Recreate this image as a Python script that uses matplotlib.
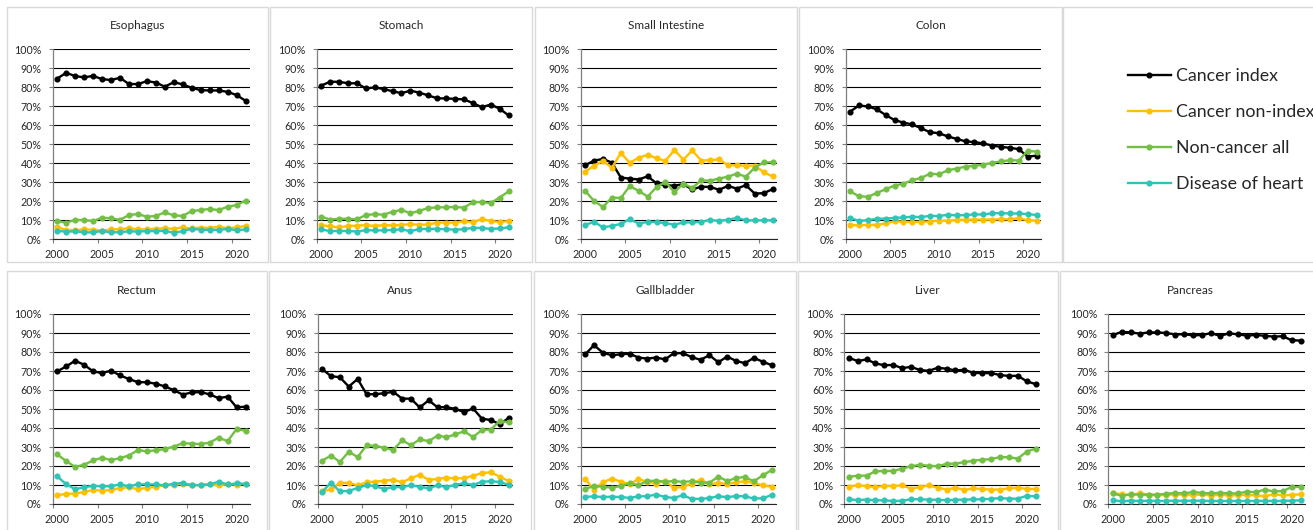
import matplotlib
matplotlib.use("Agg")
import matplotlib.pyplot as plt
from matplotlib.patches import Rectangle
from matplotlib.ticker import PercentFormatter

plt.rcParams['font.family'] = ['Lato', 'DejaVu Sans']

years = list(range(2000, 2022))
series_names = ["Cancer index", "Cancer non-index", "Non-cancer all", "Disease of heart"]
colors = ["#000000", "#FFC000", "#72BF44", "#2EC4B6"]

# values in percent, one list per series, years 2000-2021
esophagus = [
    [84.7, 87.7, 86.0, 85.3, 86.1, 84.4, 83.9, 85.1, 81.8, 81.8, 83.3, 82.6, 80.4, 82.8, 81.6, 79.8, 78.6, 78.4, 78.4, 77.7, 76.0, 73.0],
    [6.5, 4.8, 4.8, 5.2, 5.0, 4.6, 5.2, 5.3, 5.8, 5.2, 5.2, 5.6, 5.8, 5.5, 6.3, 5.7, 6.2, 6.0, 6.6, 5.9, 6.3, 7.0],
    [9.6, 8.8, 10.2, 10.2, 9.6, 11.4, 11.1, 10.2, 12.8, 13.3, 11.9, 12.3, 14.2, 12.6, 12.3, 14.9, 15.4, 16.0, 15.4, 17.2, 18.0, 20.4],
    [4.5, 4.0, 4.2, 3.7, 3.6, 4.4, 3.6, 3.8, 4.2, 4.1, 4.3, 4.3, 4.5, 3.4, 4.3, 5.6, 5.0, 5.0, 4.9, 5.5, 4.8, 5.2],
]
stomach = [
    [81.0, 83.0, 83.0, 82.2, 82.2, 79.5, 80.0, 79.2, 78.0, 77.0, 78.3, 77.3, 75.8, 74.3, 74.2, 74.0, 73.7, 71.8, 69.6, 71.0, 68.8, 65.3],
    [7.5, 6.8, 6.3, 7.0, 7.2, 7.5, 7.0, 7.5, 7.3, 7.6, 8.0, 7.7, 7.8, 8.8, 8.8, 8.8, 9.5, 9.0, 10.6, 9.7, 9.1, 9.6],
    [12.0, 10.4, 10.8, 10.8, 10.5, 12.8, 13.2, 13.0, 14.5, 15.5, 13.7, 15.0, 16.5, 16.8, 16.9, 17.0, 16.7, 19.5, 19.6, 19.1, 22.0, 25.2],
    [5.2, 4.3, 4.4, 4.4, 4.1, 4.8, 4.7, 4.7, 5.0, 5.2, 4.3, 5.4, 5.5, 5.5, 5.3, 5.1, 5.3, 6.1, 5.9, 5.5, 5.7, 6.3],
]
small_intestine = [
    [39.0, 41.5, 42.3, 40.4, 32.5, 32.0, 31.5, 33.2, 29.5, 28.4, 28.3, 29.0, 26.3, 27.7, 27.6, 26.1, 28.1, 26.7, 28.5, 24.1, 24.3, 26.4],
    [35.6, 38.8, 41.3, 37.7, 45.5, 40.3, 43.0, 44.5, 42.7, 41.3, 47.1, 42.0, 46.8, 41.5, 41.7, 42.1, 39.1, 38.9, 38.8, 38.8, 35.4, 33.1],
    [25.5, 20.2, 17.0, 22.0, 21.8, 28.0, 25.5, 22.5, 27.5, 30.2, 24.8, 29.3, 27.1, 31.0, 30.9, 32.0, 33.0, 34.6, 33.0, 37.7, 40.5, 40.6],
    [7.6, 9.2, 6.3, 7.1, 8.1, 10.6, 8.3, 9.2, 9.1, 8.5, 7.7, 8.9, 8.9, 9.2, 10.2, 9.7, 10.3, 11.3, 10.0, 10.0, 10.0, 10.0],
]
colon = [
    [67.3, 70.5, 70.0, 68.5, 65.5, 62.8, 61.5, 60.5, 58.5, 56.4, 55.9, 54.2, 52.9, 51.6, 51.2, 50.5, 49.4, 48.7, 48.2, 47.5, 43.5, 44.1],
    [7.6, 7.3, 7.7, 7.5, 8.5, 9.4, 9.3, 9.0, 9.3, 9.3, 9.9, 9.7, 10.2, 10.3, 10.4, 10.4, 10.4, 10.6, 10.5, 11.1, 10.0, 9.8],
    [25.2, 22.7, 22.4, 24.4, 26.4, 28.3, 29.3, 31.1, 32.4, 34.5, 34.3, 36.3, 37.3, 38.3, 38.7, 39.3, 40.3, 41.0, 41.7, 41.5, 46.6, 46.2],
    [11.2, 9.7, 10.1, 10.8, 10.9, 11.3, 11.5, 11.9, 11.7, 12.4, 12.2, 13.0, 12.6, 12.8, 13.1, 13.1, 13.7, 13.8, 13.6, 13.6, 13.3, 12.8],
]
rectum = [
    [69.8, 72.4, 75.4, 73.3, 69.8, 68.9, 70.2, 67.7, 65.8, 64.1, 64.1, 63.3, 61.9, 59.9, 57.6, 58.7, 58.9, 57.7, 55.7, 56.5, 50.9, 51.2],
    [4.7, 5.3, 5.5, 6.3, 7.4, 7.0, 7.3, 8.4, 8.8, 7.8, 8.5, 9.0, 9.9, 10.2, 10.5, 10.0, 10.0, 10.3, 9.8, 10.4, 10.2, 10.6],
    [26.1, 22.6, 19.5, 20.7, 22.9, 24.4, 23.0, 24.2, 25.5, 28.4, 27.7, 28.3, 28.9, 30.2, 32.0, 31.8, 31.5, 32.3, 34.9, 33.1, 39.4, 38.6],
    [14.6, 10.4, 7.8, 8.8, 9.6, 9.3, 9.4, 10.3, 9.3, 10.4, 10.3, 10.3, 9.8, 10.7, 11.1, 9.8, 10.0, 10.3, 11.7, 10.3, 10.8, 10.6],
]
anus = [
    [71.0, 67.3, 66.7, 61.8, 65.8, 57.8, 57.8, 58.3, 59.1, 55.5, 55.4, 50.8, 54.6, 50.9, 51.0, 50.0, 48.4, 50.3, 44.9, 44.2, 42.0, 45.2],
    [6.6, 7.7, 11.2, 11.0, 9.8, 11.4, 11.8, 12.2, 12.8, 11.4, 13.6, 15.3, 12.7, 13.2, 13.9, 13.5, 13.6, 14.8, 16.3, 16.7, 14.4, 12.1],
    [22.8, 25.5, 22.1, 27.5, 24.7, 30.8, 30.6, 29.6, 28.4, 33.5, 31.0, 34.0, 33.1, 36.0, 35.2, 36.6, 38.3, 35.2, 39.0, 39.2, 43.6, 43.0],
    [6.5, 11.2, 6.6, 6.9, 8.4, 10.0, 9.4, 7.8, 9.0, 8.8, 9.9, 9.0, 8.3, 9.8, 8.9, 10.1, 10.9, 10.0, 11.7, 12.0, 11.6, 10.1],
]
gallbladder = [
    [78.7, 83.6, 79.6, 78.3, 78.8, 79.1, 77.1, 76.5, 77.1, 76.1, 79.4, 79.4, 77.3, 75.9, 78.3, 74.6, 77.6, 75.3, 74.1, 76.9, 74.9, 73.1],
    [13.4, 7.3, 11.5, 13.3, 11.8, 10.5, 13.0, 11.8, 10.7, 12.3, 8.4, 9.1, 10.7, 12.8, 10.4, 11.1, 10.5, 11.4, 12.0, 11.0, 9.8, 9.1],
    [7.9, 9.5, 9.1, 8.6, 9.5, 10.8, 10.0, 12.1, 12.3, 11.7, 12.1, 11.6, 12.0, 11.2, 11.2, 14.4, 12.1, 13.7, 14.2, 11.9, 15.1, 17.8],
    [3.8, 4.0, 3.7, 3.8, 3.7, 3.2, 4.0, 4.1, 5.0, 3.7, 3.2, 4.6, 2.7, 2.7, 3.1, 4.1, 3.6, 4.2, 4.0, 2.9, 3.0, 4.7],
]
liver = [
    [77.0, 75.2, 76.1, 74.0, 73.0, 73.2, 71.5, 72.2, 70.5, 70.1, 71.7, 71.2, 70.3, 70.6, 69.0, 68.9, 68.9, 67.9, 67.4, 67.5, 64.6, 63.1],
    [9.0, 10.0, 9.3, 9.0, 9.5, 9.5, 9.8, 8.1, 8.9, 9.8, 8.6, 7.6, 8.6, 7.4, 8.2, 7.9, 7.6, 7.6, 8.2, 8.6, 7.9, 7.9],
    [14.3, 14.9, 14.9, 17.2, 17.4, 17.4, 18.6, 19.9, 20.6, 20.1, 19.9, 21.1, 21.3, 22.0, 22.8, 23.3, 23.6, 24.7, 24.6, 23.9, 27.6, 29.1],
    [2.4, 2.1, 2.3, 2.0, 1.9, 1.6, 1.7, 2.5, 2.5, 2.3, 2.2, 2.0, 2.2, 2.3, 2.4, 2.5, 2.7, 3.1, 2.8, 2.8, 4.3, 4.0],
]
pancreas = [
    [88.9, 90.6, 90.3, 89.7, 90.3, 90.3, 90.0, 89.2, 89.4, 88.7, 89.0, 89.9, 88.5, 89.8, 89.3, 88.6, 89.0, 88.5, 88.1, 88.3, 86.2, 86.0],
    [5.8, 5.1, 4.8, 5.6, 4.9, 4.6, 4.8, 5.0, 4.8, 4.6, 5.1, 4.4, 5.0, 4.4, 4.7, 4.8, 4.6, 4.0, 5.1, 4.6, 4.8, 5.1],
    [5.6, 4.3, 5.1, 4.9, 4.9, 4.9, 5.4, 5.8, 5.6, 6.3, 5.8, 5.6, 5.9, 5.6, 5.6, 6.5, 6.2, 7.6, 6.6, 6.8, 8.9, 9.1],
    [1.9, 1.5, 1.7, 1.6, 1.7, 1.6, 1.6, 1.8, 1.6, 1.8, 1.7, 1.6, 1.6, 1.6, 1.6, 1.6, 1.6, 1.7, 1.6, 1.6, 1.8, 1.9],
]

W, H = 1313, 530
fig = plt.figure(figsize=(W / 100, H / 100), dpi=100)
fig.patch.set_facecolor("white")

def fbox(x0, y0, x1, y1):
    return [x0 / W, 1 - y1 / H, (x1 - x0) / W, (y1 - y0) / H]

# (title, data, axes px box, panel border px box)
panels = [
    ("Esophagus", esophagus, (52.7, 49.5, 250, 239.3), (7, 7, 268, 262)),
    ("Stomach", stomach, (316.7, 49.5, 513, 239.3), (270, 7, 532, 262)),
    ("Small Intestine", small_intestine, (580.7, 49.5, 777, 239.3), (535, 7, 797, 262)),
    ("Colon", colon, (845.7, 49.5, 1041, 239.3), (799, 7, 1062, 262)),
    ("Rectum", rectum, (52.7, 314, 250, 504), (7, 271, 267, 535)),
    ("Anus", anus, (317.7, 314, 513, 504), (269, 271, 531, 535)),
    ("Gallbladder", gallbladder, (580.7, 314, 776, 504), (534, 271, 796, 535)),
    ("Liver", liver, (844.3, 314, 1040, 504), (798, 271, 1058, 535)),
    ("Pancreas", pancreas, (1108.3, 314, 1305, 504), (1060, 271, 1320, 535)),
]

# legend panel border
fig.add_artist(Rectangle((1063 / W, 1 - 262 / H), 300 / W, 255 / H, transform=fig.transFigure,
                         fill=False, edgecolor="#d9d9d9", lw=1))

x = list(range(len(years)))
handles = []
for title, data, abox, pbox in panels:
    fig.add_artist(Rectangle((pbox[0] / W, 1 - pbox[3] / H), (pbox[2] - pbox[0]) / W,
                             (pbox[3] - pbox[1]) / H, transform=fig.transFigure,
                             fill=False, edgecolor="#d9d9d9", lw=1))
    fig.text((pbox[0] + pbox[2]) / 2 / W, 1 - (abox[1] - 24) / H, title,
             ha="center", va="center", fontsize=8.5, color="#262626")
    ax = fig.add_axes(fbox(*abox))
    for vals, c, name in zip(data, colors, series_names):
        ln, = ax.plot(x, [v / 100 for v in vals], color=c, lw=1.7, marker="o", ms=3.4,
                      label=name, zorder=3, clip_on=False)
        if len(handles) < 4:
            handles.append(ln)
    ax.set_ylim(0, 1)
    ax.set_xlim(-0.5, len(years) - 0.5)
    ax.set_yticks([i / 10 for i in range(11)])
    ax.yaxis.set_major_formatter(PercentFormatter(1.0, decimals=0))
    ax.yaxis.grid(True, color="black", lw=0.8)
    ax.set_axisbelow(True)
    ax.set_xticks([-0.5, 4.5, 9.5, 14.5, 19.5])
    ax.set_xticklabels([])
    ax.set_xticks([0, 5, 10, 15, 20], minor=True)
    ax.set_xticklabels([str(years[i]) for i in [0, 5, 10, 15, 20]], minor=True)
    ax.tick_params(axis="x", which="major", length=3, width=0.8, color="#7f7f7f", direction="out")
    ax.tick_params(axis="x", which="minor", length=0, pad=7, labelsize=7.7, labelcolor="#262626")
    ax.tick_params(axis="y", length=3, width=0.8, color="#7f7f7f", pad=5, labelsize=7.7,
                   labelcolor="#262626")
    for s in ["top", "right"]:
        ax.spines[s].set_visible(False)
    ax.spines["left"].set_color("#7f7f7f")
    ax.spines["bottom"].set_color("#262626")
    ax.spines["left"].set_linewidth(0.9)
    ax.spines["bottom"].set_linewidth(0.8)
    ax.patch.set_alpha(0)

fig.legend(handles=handles, labels=series_names, loc="upper left",
           bbox_to_anchor=(1128 / W, 1 - 68 / H), frameon=False, fontsize=12.8,
           handlelength=2.4, handletextpad=0.3, labelspacing=1.13,
           borderpad=0, borderaxespad=0, labelcolor="#262626")

fig.savefig("out.png", dpi=100)
